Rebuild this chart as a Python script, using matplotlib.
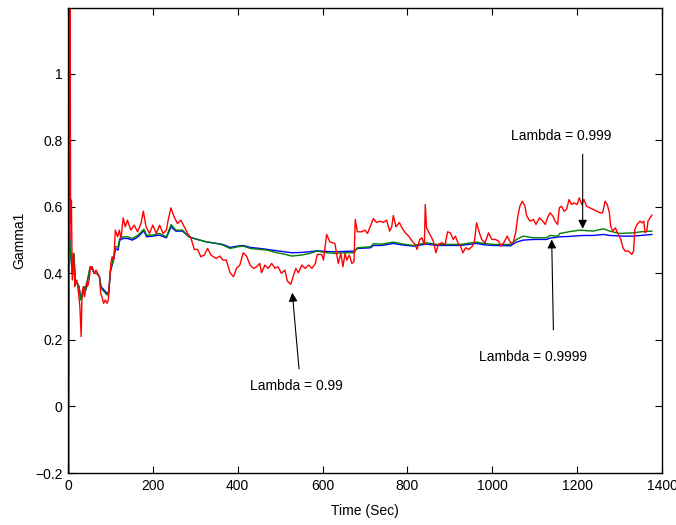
import matplotlib
matplotlib.use("Agg")
import matplotlib.pyplot as plt

plt.rcParams['font.family'] = ['Liberation Sans', 'DejaVu Sans']

# Lambda = 0.99 (red)
t_red = [0, 1, 2.5, 4, 5, 6, 7, 8, 10, 13, 16, 21, 25, 28, 31, 33, 36, 39, 43, 46, 50, 53, 57, 62, 66, 70,
         74, 77, 80, 84, 88, 92, 95, 97, 101, 104, 108, 111.5, 117, 121, 125, 130, 135, 140, 148, 156, 164,
         172, 177.5, 184, 192, 200, 208, 216, 224, 232, 236, 242.7, 250, 258, 266, 274, 282, 290, 297.7,
         305.5, 313, 321, 329, 337, 349, 358, 365, 373, 382, 390, 397, 405, 413, 421, 429, 437, 444.6, 452,
         456, 464, 472, 480, 488, 495, 503, 511, 517, 525, 531, 537, 543, 551, 559, 567, 575, 583, 587.6,
         598, 602, 609.6, 617, 629, 633, 637, 643, 648, 653, 657, 663, 669, 674, 677, 682, 692, 700, 706,
         712, 719.6, 727, 735, 743, 751, 758, 763, 766.7, 773, 781, 787, 795, 803, 811, 818, 822.5, 829,
         834, 840, 842, 845, 853, 861, 867, 873, 881, 889, 894.6, 901, 908, 913, 919, 925, 931, 937, 945,
         953, 958, 963, 969.6, 975, 983, 991, 999, 1007, 1015, 1020, 1027, 1035, 1043, 1049, 1055, 1060,
         1065, 1071, 1077, 1081, 1089, 1097, 1103, 1111, 1119, 1125, 1130, 1136, 1143, 1148, 1154, 1158,
         1163, 1169, 1175, 1181, 1187, 1192, 1200, 1205, 1211, 1216, 1222, 1230, 1238, 1246, 1254, 1260,
         1266, 1271, 1276, 1279, 1284, 1290, 1295, 1303, 1308, 1313, 1321, 1329, 1333, 1336, 1341, 1348,
         1353, 1357, 1360, 1364, 1367, 1372, 1376]
g_red = [0.50, -0.25, 1.35, 0.50, 1.25, 0.63, 0.55, 0.62, 0.38, 0.46, 0.36, 0.38, 0.34, 0.30, 0.21, 0.34,
         0.36, 0.33, 0.37, 0.36, 0.38, 0.42, 0.42, 0.40, 0.41, 0.40, 0.39, 0.34, 0.33, 0.31, 0.32, 0.31,
         0.32, 0.36, 0.43, 0.45, 0.44, 0.53, 0.51, 0.53, 0.505, 0.567, 0.54, 0.56, 0.53, 0.545, 0.525,
         0.55, 0.587, 0.54, 0.52, 0.545, 0.52, 0.545, 0.52, 0.53, 0.56, 0.597, 0.57, 0.55, 0.56, 0.54,
         0.52, 0.505, 0.472, 0.472, 0.45, 0.455, 0.475, 0.455, 0.445, 0.452, 0.44, 0.44, 0.402, 0.39,
         0.415, 0.425, 0.462, 0.452, 0.425, 0.415, 0.42, 0.43, 0.402, 0.425, 0.415, 0.43, 0.415, 0.42,
         0.40, 0.41, 0.377, 0.367, 0.392, 0.415, 0.402, 0.425, 0.415, 0.425, 0.415, 0.43, 0.457, 0.457,
         0.44, 0.517, 0.495, 0.49, 0.46, 0.43, 0.46, 0.42, 0.46, 0.44, 0.455, 0.43, 0.435, 0.562, 0.525,
         0.525, 0.53, 0.52, 0.54, 0.565, 0.553, 0.557, 0.553, 0.56, 0.527, 0.54, 0.574, 0.54, 0.553,
         0.537, 0.522, 0.512, 0.497, 0.487, 0.472, 0.502, 0.507, 0.487, 0.607, 0.537, 0.517, 0.497,
         0.462, 0.487, 0.492, 0.487, 0.525, 0.522, 0.502, 0.512, 0.492, 0.482, 0.462, 0.477, 0.472,
         0.482, 0.497, 0.552, 0.522, 0.502, 0.492, 0.522, 0.502, 0.502, 0.497, 0.482, 0.492, 0.512,
         0.492, 0.492, 0.522, 0.57, 0.602, 0.617, 0.602, 0.572, 0.557, 0.562, 0.547, 0.567, 0.557,
         0.547, 0.567, 0.582, 0.572, 0.557, 0.547, 0.597, 0.602, 0.587, 0.592, 0.622, 0.607, 0.612,
         0.607, 0.627, 0.607, 0.622, 0.602, 0.597, 0.592, 0.587, 0.582, 0.582, 0.617, 0.607, 0.582,
         0.542, 0.527, 0.537, 0.522, 0.502, 0.477, 0.467, 0.467, 0.457, 0.467, 0.532, 0.547, 0.557,
         0.552, 0.557, 0.522, 0.527, 0.557, 0.567, 0.575]

# Lambda = 0.999 (green)
t_green = [0, 1, 2, 5, 10, 14, 17, 22, 26, 30, 34, 38, 42, 46, 52, 56, 62, 68, 74, 78, 85, 92, 96, 100,
           104, 108, 112, 118, 122, 130, 140, 152, 165, 179, 185, 200, 215, 232, 243, 254, 270, 285, 297,
           325, 350, 365, 382, 400, 413, 430, 452, 470, 492, 510, 527, 550, 570, 587, 610, 630, 650, 674,
           682, 713, 720, 740, 767, 790, 814, 845, 869, 900, 925, 963, 980, 1003, 1043, 1057, 1073, 1097,
           1128, 1136, 1155, 1159, 1180, 1206, 1238, 1262, 1277, 1300, 1333, 1350, 1376]
g_green = [0.50, -0.25, 0.55, 0.48, 0.40, 0.46, 0.38, 0.37, 0.36, 0.32, 0.33, 0.36, 0.35, 0.38, 0.42,
           0.42, 0.40, 0.40, 0.39, 0.355, 0.345, 0.335, 0.34, 0.41, 0.43, 0.45, 0.48, 0.48, 0.505, 0.51,
           0.51, 0.505, 0.515, 0.533, 0.515, 0.515, 0.52, 0.51, 0.547, 0.53, 0.53, 0.51, 0.505, 0.495,
           0.49, 0.485, 0.475, 0.48, 0.482, 0.475, 0.472, 0.47, 0.462, 0.458, 0.452, 0.455, 0.46, 0.467,
           0.462, 0.46, 0.462, 0.462, 0.477, 0.48, 0.489, 0.488, 0.494, 0.488, 0.484, 0.492, 0.487, 0.487,
           0.487, 0.494, 0.49, 0.487, 0.487, 0.502, 0.512, 0.507, 0.507, 0.514, 0.512, 0.52, 0.525, 0.53,
           0.527, 0.534, 0.527, 0.52, 0.522, 0.525, 0.527]

# Lambda = 0.9999 (blue)
t_blue = [0, 1, 2, 5, 10, 14, 17, 22, 26, 30, 34, 38, 42, 46, 52, 56, 62, 68, 74, 78, 85, 92, 96, 100,
          104, 108, 112, 118, 122, 130, 140, 152, 165, 179, 185, 200, 215, 232, 243, 254, 270, 285, 297,
          325, 350, 365, 382, 400, 413, 430, 452, 470, 492, 510, 527, 550, 570, 587, 610, 630, 650, 674,
          682, 713, 720, 740, 767, 790, 814, 845, 869, 900, 925, 963, 980, 1003, 1043, 1057, 1073, 1097,
          1128, 1136, 1159, 1180, 1214, 1238, 1262, 1277, 1308, 1333, 1350, 1376]
g_blue = [0.50, -0.25, 0.55, 0.48, 0.40, 0.455, 0.38, 0.37, 0.36, 0.325, 0.335, 0.36, 0.35, 0.38, 0.415,
          0.415, 0.40, 0.40, 0.39, 0.36, 0.35, 0.34, 0.345, 0.405, 0.425, 0.445, 0.475, 0.47, 0.50, 0.505,
          0.505, 0.50, 0.51, 0.528, 0.51, 0.512, 0.515, 0.507, 0.54, 0.527, 0.527, 0.51, 0.505, 0.495,
          0.49, 0.487, 0.478, 0.482, 0.484, 0.478, 0.475, 0.472, 0.468, 0.465, 0.462, 0.463, 0.465, 0.468,
          0.466, 0.465, 0.466, 0.467, 0.475, 0.477, 0.484, 0.484, 0.49, 0.485, 0.482, 0.488, 0.484, 0.484,
          0.484, 0.49, 0.486, 0.484, 0.483, 0.494, 0.50, 0.502, 0.502, 0.506, 0.51, 0.511, 0.514, 0.514,
          0.517, 0.514, 0.512, 0.512, 0.514, 0.517]

x_ticks = [0, 200, 400, 600, 800, 1000, 1200, 1400]
y_ticks = [-0.2, 0, 0.2, 0.4, 0.6, 0.8, 1]
y_tick_labels = ['\u22120.2', '0', '0.2', '0.4', '0.6', '0.8', '1']

fig = plt.figure(figsize=(6.76, 5.25), dpi=100)
ax = fig.add_axes([0.1006, 0.099, 0.8787, 0.886])

ax.plot(t_blue, g_blue, color='#0000ff', lw=1.0)
ax.plot(t_green, g_green, color='#008000', lw=1.0)
ax.plot(t_red, g_red, color='#ff0000', lw=1.0)

ax.set_xlim(0, 1400)
ax.set_ylim(-0.2, 1.198)
ax.set_xticks(x_ticks)
ax.set_yticks(y_ticks)
ax.set_yticklabels(y_tick_labels)
ax.tick_params(direction='in', top=True, right=True, length=5, labelsize=10, pad=4)
for s in ax.spines.values():
    s.set_linewidth(1.0)

ax.set_xlabel('Time (Sec)', fontsize=10, labelpad=8)
ax.set_ylabel('Gamma1', fontsize=10, labelpad=6)

# annotations with arrows
arrow = dict(arrowstyle='-|>', color='black', lw=0.8, mutation_scale=13, shrinkA=0, shrinkB=0)
ax.annotate('', xy=(528.6, 0.342), xytext=(544.5, 0.113), arrowprops=arrow)
ax.text(539, 0.063, 'Lambda = 0.99', ha='center', va='center', fontsize=10)

ax.annotate('', xy=(1213, 0.534), xytext=(1213, 0.758), arrowprops=arrow)
ax.text(1163.5, 0.813, 'Lambda = 0.999', ha='center', va='center', fontsize=10)

ax.annotate('', xy=(1140, 0.502), xytext=(1144, 0.23), arrowprops=arrow)
ax.text(1097, 0.15, 'Lambda = 0.9999', ha='center', va='center', fontsize=10)

fig.savefig('out.png', dpi=100)
